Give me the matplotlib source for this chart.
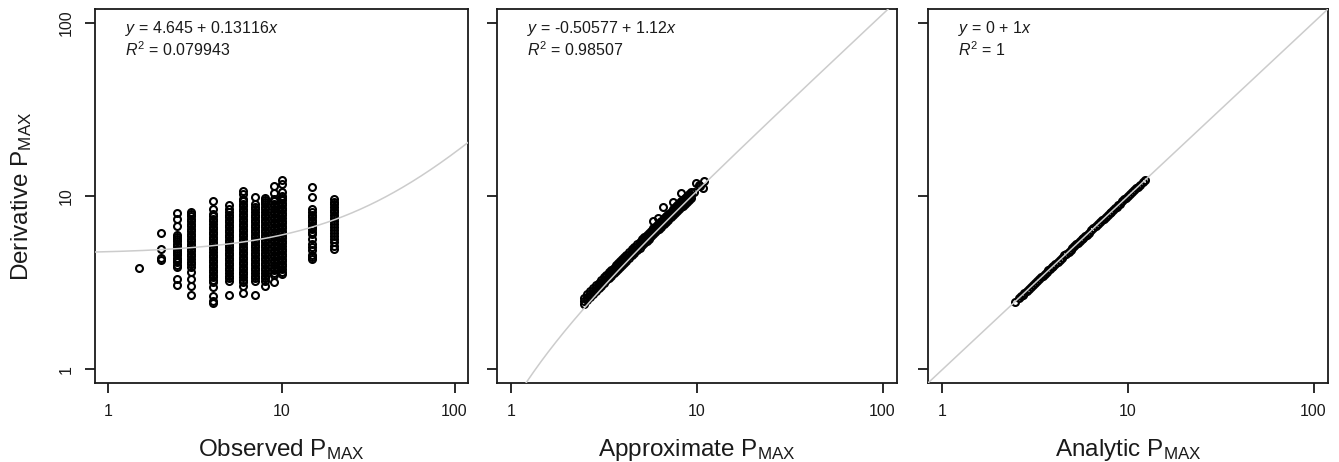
import numpy as np
import matplotlib
matplotlib.use('Agg')
import matplotlib.pyplot as plt

plt.rcParams['font.family'] = ['Liberation Sans', 'DejaVu Sans']
plt.rcParams['mathtext.fontset'] = 'custom'
plt.rcParams['mathtext.rm'] = 'Liberation Sans'
plt.rcParams['mathtext.it'] = 'Liberation Sans:italic'
plt.rcParams['mathtext.bf'] = 'Liberation Sans:bold'

# ---------------- data ----------------
# Panel 1: observed PMAX levels and the derivative PMAX values seen in each column
observed_levels = [1.5, 2, 2.5, 3, 4, 5, 6, 7, 8, 9, 10, 15, 20]
deriv_by_observed = [
    [3.85],
    [4.3, 4.4, 4.95, 6.1],
    [3.06, 3.32, 3.9, 4.02, 4.14, 4.27, 4.4, 4.54, 4.68, 4.83, 4.98, 5.14, 5.3, 5.47,
     5.64, 5.8, 5.96, 6.69, 7.37, 7.98],
    [2.70, 3.04, 3.32, 3.63, 3.92, 4.05, 4.19, 4.33, 4.48, 4.63, 4.79, 4.95, 5.12, 5.29,
     5.47, 5.66, 5.85, 6.05, 6.26, 6.47, 6.69, 6.92, 7.15, 7.39, 7.64, 7.85, 8.05],
    [2.42, 2.49, 2.66, 2.98, 3.18, 3.29, 3.4, 3.52, 3.64, 3.76, 3.89, 4.02, 4.16, 4.3,
     4.45, 4.6, 4.76, 4.92, 5.09, 5.26, 5.44, 5.63, 5.82, 6.02, 6.23, 6.44, 6.66, 6.89,
     7.13, 7.37, 7.62, 7.87, 8.41, 9.4],
    [2.70, 3.25, 3.36, 3.48, 3.6, 3.72, 3.85, 3.98, 4.12, 4.26, 4.41, 4.56, 4.72, 4.88,
     5.05, 5.22, 5.4, 5.58, 5.77, 5.97, 6.17, 6.38, 6.6, 6.83, 7.06, 7.3, 7.55, 7.81,
     8.05, 8.41, 8.91],
    [2.77, 3.02, 3.19, 3.3, 3.41, 3.53, 3.65, 3.78, 3.91, 4.04, 4.18, 4.32, 4.47, 4.62,
     4.78, 4.94, 5.11, 5.29, 5.47, 5.66, 5.85, 6.05, 6.26, 6.47, 6.69, 6.92, 7.16, 7.4,
     7.66, 7.92, 8.19, 8.47, 8.76, 9.05, 9.35, 9.6, 10.27, 10.7],
    [2.70, 3.25, 3.36, 3.48, 3.6, 3.72, 3.85, 3.98, 4.12, 4.26, 4.41, 4.56, 4.72, 4.88,
     5.05, 5.22, 5.4, 5.58, 5.77, 5.97, 6.17, 6.38, 6.6, 6.83, 7.06, 7.3, 7.55, 7.81,
     8.08, 8.36, 8.65, 8.95, 9.83],
    [3.02, 3.25, 3.36, 3.48, 3.6, 3.72, 3.85, 3.98, 4.12, 4.26, 4.41, 4.56, 4.72, 4.88,
     5.05, 5.22, 5.4, 5.58, 5.77, 5.97, 6.17, 6.38, 6.6, 6.83, 7.06, 7.3, 7.55, 7.81,
     8.08, 8.36, 8.65, 8.95, 9.25, 9.5, 9.7],
    [3.18, 3.5, 3.62, 3.74, 3.87, 4.0, 4.14, 4.28, 4.43, 4.58, 4.74, 4.9, 5.07, 5.24,
     5.42, 5.61, 5.8, 6.0, 6.21, 6.42, 6.64, 6.87, 7.11, 7.35, 7.6, 7.86, 8.13, 8.41,
     8.7, 9.0, 9.3, 9.6, 10.4, 11.37],
    [3.55, 3.67, 3.8, 3.93, 4.06, 4.2, 4.35, 4.5, 4.65, 4.81, 4.98, 5.15, 5.33, 5.51,
     5.7, 5.9, 6.1, 6.31, 6.53, 6.75, 6.98, 7.22, 7.47, 7.73, 8.0, 8.27, 8.55, 8.85,
     9.15, 9.45, 9.75, 10.05, 10.6, 11.7, 12.36],
    [4.33, 4.45, 4.6, 4.9, 5.05, 5.3, 5.65, 6.0, 6.2, 6.45, 6.65, 6.85, 7.05, 7.3, 7.55,
     7.8, 8.1, 8.41, 9.83, 11.3],
    [4.95, 5.15, 5.4, 5.65, 5.9, 6.15, 6.4, 6.65, 6.9, 7.15, 7.45, 7.75, 8.05, 8.35,
     8.65, 8.95, 9.25, 9.6],
]

# Panel 2: approximate PMAX and derivative PMAX (three stacked rows of the band + outliers)
approx_pmax = [2.45, 2.55, 2.65, 2.75, 2.85, 2.95, 3.05, 3.15, 3.25, 3.35, 3.45, 3.55,
               3.65, 3.75, 3.85, 3.95, 4.05, 4.15, 4.3, 4.45, 4.6, 4.75, 4.9, 5.05,
               5.2, 5.35, 5.5, 5.65, 5.8, 5.95, 6.1, 6.25, 6.4, 6.6, 6.8, 7.0, 7.2,
               7.4, 7.6, 7.8, 8.0, 8.2, 8.4, 8.6, 8.8, 9.0, 9.3]
deriv_low = [2.40, 2.50, 2.61, 2.72, 2.83, 2.94, 3.04, 3.15, 3.26, 3.37, 3.47, 3.58,
             3.69, 3.80, 3.91, 4.01, 4.12, 4.23, 4.39, 4.55, 4.71, 4.88, 5.04, 5.20,
             5.36, 5.52, 5.68, 5.85, 6.01, 6.17, 6.33, 6.49, 6.65, 6.87, 7.09, 7.30,
             7.52, 7.73, 7.95, 8.16, 8.38, 8.59, 8.81, 9.03, 9.24, 9.46, 9.78]
deriv_mid = [2.49, 2.61, 2.72, 2.83, 2.94, 3.05, 3.17, 3.28, 3.39, 3.50, 3.62, 3.73,
             3.84, 3.95, 4.06, 4.18, 4.29, 4.40, 4.57, 4.74, 4.91, 5.07, 5.24, 5.41,
             5.58, 5.75, 5.92, 6.08, 6.25, 6.42, 6.59, 6.76, 6.93, 7.15, 7.37, 7.60,
             7.82, 8.05, 8.27, 8.50, 8.72, 8.95, 9.17, 9.39, 9.62, 9.84, 10.18]
deriv_high = [2.59, 2.71, 2.82, 2.94, 3.06, 3.17, 3.29, 3.41, 3.52, 3.64, 3.76, 3.87,
              3.99, 4.11, 4.22, 4.34, 4.46, 4.57, 4.75, 4.92, 5.10, 5.27, 5.45, 5.62,
              5.80, 5.97, 6.15, 6.32, 6.50, 6.67, 6.85, 7.02, 7.20, 7.43, 7.66, 7.90,
              8.13, 8.36, 8.60, 8.83, 9.06, 9.30, 9.53, 9.76, 10.00, 10.23, 10.58]
approx_outlier = [5.78, 6.15, 6.54, 7.41, 8.22, 9.6, 9.9, 10.2, 10.4, 10.77, 10.97]
deriv_outlier = [7.2, 7.5, 8.6, 9.2, 10.4, 10.6, 11.9, 11.6, 11.4, 11.1, 12.25]

# Panel 3: analytic PMAX equals derivative PMAX (R^2 = 1)
analytic_pmax = [2.45, 2.58, 2.64, 2.70, 2.76, 2.84, 2.92, 3.00, 3.08, 3.16, 3.24, 3.32,
                 3.40, 3.48, 3.56, 3.64, 3.72, 3.80, 3.88, 3.96, 4.06, 4.18, 4.30, 4.42,
                 4.54, 4.66, 4.78, 4.90, 5.02, 5.14, 5.26, 5.38, 5.50, 5.62, 5.74, 5.86,
                 5.98, 6.15, 6.33, 6.51, 6.69, 6.87, 7.05, 7.23, 7.41, 7.59, 7.77, 7.95,
                 8.13, 8.31, 8.49, 8.67, 8.85, 9.05, 9.30, 9.55, 9.80, 10.05, 10.30,
                 10.55, 10.80, 11.05, 11.30, 11.60, 12.00, 12.30]
deriv_vs_analytic = [2.45, 2.58, 2.64, 2.70, 2.76, 2.84, 2.92, 3.00, 3.08, 3.16, 3.24, 3.32,
                     3.40, 3.48, 3.56, 3.64, 3.72, 3.80, 3.88, 3.96, 4.06, 4.18, 4.30, 4.42,
                     4.54, 4.66, 4.78, 4.90, 5.02, 5.14, 5.26, 5.38, 5.50, 5.62, 5.74, 5.86,
                     5.98, 6.15, 6.33, 6.51, 6.69, 6.87, 7.05, 7.23, 7.41, 7.59, 7.77, 7.95,
                     8.13, 8.31, 8.49, 8.67, 8.85, 9.05, 9.30, 9.55, 9.80, 10.05, 10.30,
                     10.55, 10.80, 11.05, 11.30, 11.60, 12.00, 12.30]

# Fitted lines (intercept, slope) and labels
fit_intercepts = [4.645, -0.50577, 0]
fit_slopes = [0.13116, 1.12, 1]
eq_labels = ['$y$ = 4.645 + 0.13116$x$', '$y$ = -0.50577 + 1.12$x$', '$y$ = 0 + 1$x$']
r2_labels = ['$R^2$ = 0.079943', '$R^2$ = 0.98507', '$R^2$ = 1']
x_labels = ['Observed P$_{\\mathrm{MAX}}$', 'Approximate P$_{\\mathrm{MAX}}$',
            'Analytic P$_{\\mathrm{MAX}}$']
y_label = 'Derivative P$_{\\mathrm{MAX}}$'
tick_values = [1, 10, 100]
tick_labels = ['1', '10', '100']

# ---------------- build point sets ----------------
obs_x, obs_y = [], []
for lv, vals in zip(observed_levels, deriv_by_observed):
    obs_x += [lv] * len(vals)
    obs_y += vals
p2_x = approx_pmax * 3 + approx_outlier
p2_y = deriv_low + deriv_mid + deriv_high + deriv_outlier
panels = [(obs_x, obs_y), (p2_x, p2_y), (analytic_pmax, deriv_vs_analytic)]

# ---------------- figure ----------------
W, H = 1339, 462
fig = plt.figure(figsize=(W / 100, H / 100), dpi=100)
box_top, box_bot = 9, 383
lefts = [95, 497, 928]
widths = [373, 400, 400]
lo, hi = 10 ** -0.078, 10 ** 2.078
gray = '#cccccc'
ink = '#1a1a1a'

for i in range(3):
    ax = fig.add_axes([lefts[i] / W, (H - box_bot) / H, widths[i] / W,
                       (box_bot - box_top) / H])
    xs, ys = panels[i]
    ax.plot(xs, ys, linestyle='none', marker='o', markersize=5.0,
            markerfacecolor='none', markeredgecolor='black', markeredgewidth=1.5,
            zorder=2)
    xl = np.geomspace(lo, hi, 400)
    yl = fit_intercepts[i] + fit_slopes[i] * xl
    ok = yl > 0
    ax.plot(xl[ok], yl[ok], color=gray, lw=1.1, zorder=3)
    ax.set_xscale('log')
    ax.set_yscale('log')
    ax.set_xlim(lo, hi)
    ax.set_ylim(lo, hi)
    ax.set_xticks(tick_values)
    ax.set_xticklabels(tick_labels)
    ax.set_yticks(tick_values)
    ax.set_yticklabels(tick_labels)
    ax.xaxis.set_minor_locator(matplotlib.ticker.NullLocator())
    ax.yaxis.set_minor_locator(matplotlib.ticker.NullLocator())
    for sp in ax.spines.values():
        sp.set_linewidth(1.3)
        sp.set_color(ink)
    ax.tick_params(direction='out', length=7, width=1.3, color=ink,
                   labelsize=11.5, labelcolor=ink)
    ax.tick_params(axis='x', pad=8)
    ax.tick_params(axis='y', pad=8, labelrotation=90)
    if i == 0:
        for lbl in ax.get_yticklabels():
            lbl.set_va('center')
    else:
        ax.tick_params(axis='y', labelleft=False)
    wpx = widths[i]
    hpx = box_bot - box_top
    ax.text(30 / wpx, 1 - 24.5 / hpx, eq_labels[i], transform=ax.transAxes,
            fontsize=11.5, ha='left', va='baseline', color=ink)
    ax.text(30 / wpx, 1 - 46.5 / hpx, r2_labels[i], transform=ax.transAxes,
            fontsize=11.5, ha='left', va='baseline', color=ink)
    ax.text(0.5, -73 / hpx, x_labels[i], transform=ax.transAxes, fontsize=17.5,
            ha='center', va='baseline', color=ink)

fig.text(28 / W, 1 - 196 / H, y_label, rotation=90, rotation_mode='anchor',
         ha='center', va='baseline', fontsize=17.5, color=ink)

fig.savefig('out.png', dpi=100)
